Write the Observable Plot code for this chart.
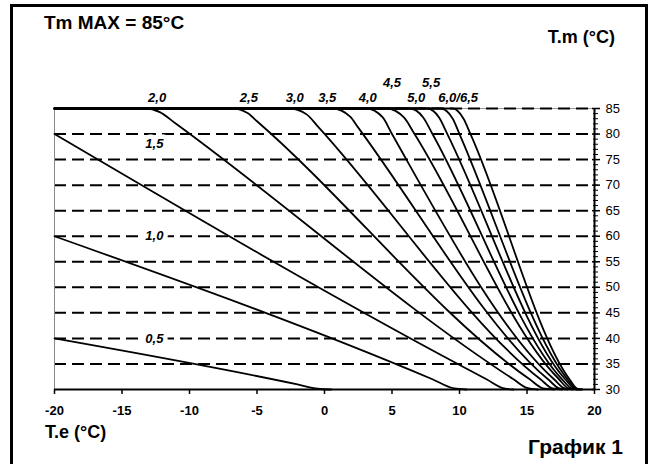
<!DOCTYPE html>
<html>
<head>
<meta charset="utf-8">
<script src="https://cdn.jsdelivr.net/npm/d3@7"></script>
<script src="https://cdn.jsdelivr.net/npm/@observablehq/plot@0.6"></script>
<style>
  html, body { margin: 0; padding: 0; background: #fff; overflow: hidden; }
  #wrap { position: relative; width: 655px; height: 464px; font-family: "Liberation Sans", Arial, sans-serif; }
  #wrap svg { position: absolute; left: 0; top: 0; }
  .frame { position: absolute; left: 10px; top: 4px; width: 632px; height: 470px; border: 3px solid #000; box-sizing: content-box; }
  .t { position: absolute; font-weight: bold; line-height: 1; color: #000; white-space: nowrap; }
</style>
</head>
<body>
<div id="wrap">
  <div class="frame"></div>
</div>
<script>
// Axis ticks
const xTicks = [-20, -15, -10, -5, 0, 5, 10, 15, 20];
const yTicks = [30, 35, 40, 45, 50, 55, 60, 65, 70, 75, 80, 85];
const yMinorTicks = d3.range(30, 86, 1);
const gridLevels = [35, 40, 45, 50, 55, 60, 65, 70, 75, 80];

// Heating curves: [T.e, T.m] points
const curve05 = [[-20, 40], [-2, 31], [-0.5, 30.15], [0.5, 30]];
const curve10 = [[-20, 60], [8, 32], [9.6, 30.2], [10.5, 30]];
const curve15 = [[-20, 80], [12, 32], [13.3, 30.2], [14, 30]];
const curve20 = [[-20, 85], [-13.3, 85], [-12.2, 84.3], [-11, 82], [14, 32], [15, 30.3], [15.8, 30]];
const curve25 = [[-20, 85], [-6.8, 85], [-5.7, 84.1], [-5, 82.5], [15.2, 32], [16.2, 30.2], [17, 30]];
const curve30 = [[-20, 85], [-2.6, 85], [-1.3, 83.8], [-0.5, 81.5], [16, 32], [16.9, 30.2], [17.6, 30]];
const curve35 = [[-20, 85], [0.6, 85], [1.9, 83.4], [2.5, 81.25], [16.6, 31.9], [17.4, 30.2], [18, 30]];
const curve40 = [[-20, 85], [3.1, 85], [4.3, 83.3], [5, 80], [17, 32], [17.8, 30.2], [18.4, 30]];
const curve45 = [[-20, 85], [4.6, 85], [5.9, 83.2], [6.6, 80.3], [17.3, 32.2], [18.1, 30.2], [18.7, 30]];
const curve50 = [[-20, 85], [6.3, 85], [7.3, 83.3], [8, 80], [17.6, 32], [18.3, 30.2], [18.8, 30]];
const curve55 = [[-20, 85], [7.6, 85], [8.5, 83.2], [9.1, 80], [17.8, 32.1], [18.5, 30.2], [18.9, 30]];
const curve60 = [[-20, 85], [8.6, 85], [9.5, 83], [10, 80], [18, 32], [18.6, 30.2], [19, 30]];
const curve65 = [[-20, 85], [9.5, 85], [10.3, 83], [10.8, 80.1], [18.15, 32], [18.7, 30.2], [19.1, 30]];
const curves = [curve05, curve10, curve15, curve20, curve25, curve30, curve35, curve40, curve45, curve50, curve55, curve60, curve65];

// Curve labels
const topLabels = ["2,0", "2,5", "3,0", "3,5", "4,0", "4,5", "5,0", "5,5", "6,0/6,5"];
const topLabelTe = [-12.4, -5.6, -2.2, 0.2, 3.2, 5.0, 6.8, 7.9, 9.9];
const topLabelTm = [87.1, 87.1, 87.1, 87.1, 87.1, 90.1, 87.1, 90.1, 87.1];
const sideLabels = ["1,5", "1,0", "0,5"];
const sideLabelTe = [-12.6, -12.6, -12.6];
const sideLabelTm = [78.1, 60, 40];

const topLabelData = topLabels.map((t, i) => ({t, x: topLabelTe[i], y: topLabelTm[i]}));
const sideLabelData = sideLabels.map((t, i) => ({t, x: sideLabelTe[i], y: sideLabelTm[i]}));

const chart = Plot.plot({
  width: 655,
  height: 464,
  marginLeft: 54,
  marginRight: 61,
  marginTop: 108,
  marginBottom: 75,
  style: { fontFamily: "Liberation Sans, Arial, sans-serif", background: "transparent", color: "#000" },
  x: { domain: [-20, 20], label: null },
  y: { domain: [30, 85], label: null },
  marks: [
    Plot.ruleY(gridLevels, { x1: -20, x2: 20, stroke: "#000", strokeWidth: 2, strokeDasharray: "12,6" }),
    Plot.ruleY([85], { x1: -20, x2: 20, stroke: "#999", strokeWidth: 1 }),
    Plot.ruleY([85], { x1: -20, x2: 20, stroke: "#000", strokeWidth: 2, strokeDasharray: "12,6" }),
    Plot.ruleX([-20], { y1: 30, y2: 85, stroke: "#888", strokeWidth: 1 }),
    ...curves.map(c => Plot.line(c, { x: d => d[0], y: d => d[1], curve: "monotone-x", stroke: "#000", strokeWidth: 1.8 })),
    Plot.ruleY([30], { x1: -20, x2: 20, stroke: "#000", strokeWidth: 2 }),
    Plot.ruleX([20], { y1: 30, y2: 85, stroke: "#000", strokeWidth: 2 }),
    Plot.axisX(xTicks, { anchor: "bottom", label: null, tickSize: 5, tickPadding: 11, fontSize: 13, fontWeight: "bold", stroke: "#000", strokeWidth: 1.5, tickFormat: d => String(d).replace("−", "-") }),
    Plot.axisY(yMinorTicks, { anchor: "right", label: null, tickSize: 5, dx: -2, tickFormat: () => "", strokeWidth: 1 }),
    Plot.axisY(yTicks, { anchor: "right", label: null, tickSize: 8, dx: -3, tickFormat: () => "", strokeWidth: 1.5 }),
    Plot.axisY(yTicks, { anchor: "right", label: null, tickSize: 0, tickPadding: 11, fontSize: 13 }),
    Plot.text(topLabelData, { x: "x", y: "y", text: "t", fontSize: 13, fontWeight: "bold", fontStyle: "italic", fill: "#000" }),
    Plot.text(sideLabelData, { x: "x", y: "y", text: "t", fontSize: 13, fontWeight: "bold", fontStyle: "italic", fill: "#000", stroke: "#fff", strokeWidth: 9, paintOrder: "stroke" })
  ]
});

const wrap = document.getElementById("wrap");
wrap.insertBefore(chart, wrap.firstChild);

function addText(txt, css) {
  const d = document.createElement("div");
  d.className = "t";
  d.textContent = txt;
  Object.assign(d.style, css);
  wrap.appendChild(d);
}
addText("Tm MAX = 85°C", { left: "44px", top: "13px", fontSize: "19px" });
addText("T.m (°C)", { right: "40px", top: "28px", fontSize: "18px" });
addText("T.e (°C)", { left: "45px", top: "423px", fontSize: "18px" });
addText("График 1", { right: "32px", top: "436px", fontSize: "21px" });
</script>
</body>
</html>
